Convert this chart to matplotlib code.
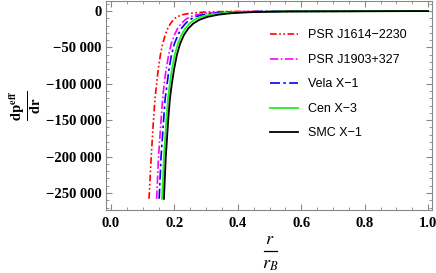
import numpy as np
import matplotlib.pyplot as plt
from matplotlib.lines import Line2D
from matplotlib.ticker import FuncFormatter, MultipleLocator

# valeurs : niveaux de dp/dr et rayon correspondant pour chaque etoile
niveaux = [-258000, -200000, -150000, -120000, -100000, -80000, -60000, -45000,
           -33000, -24000, -17000, -12000, -8000, -5000, -3000, -1500, -500, 0]

r_psr1614 = [0.120, 0.127, 0.134, 0.139, 0.144, 0.149, 0.156, 0.163, 0.171,
             0.179, 0.188, 0.197, 0.207, 0.226, 0.250, 0.290, 0.370, 1.0]
r_psr1903 = [0.144, 0.150, 0.158, 0.163, 0.168, 0.174, 0.182, 0.190, 0.200,
             0.210, 0.222, 0.234, 0.248, 0.272, 0.302, 0.350, 0.446, 1.0]
r_vela = [0.152, 0.158, 0.166, 0.171, 0.177, 0.183, 0.191, 0.200, 0.211,
          0.222, 0.235, 0.248, 0.265, 0.290, 0.322, 0.375, 0.478, 1.0]
r_cen = [0.161, 0.167, 0.1745, 0.180, 0.1855, 0.192, 0.201, 0.211, 0.222,
         0.234, 0.248, 0.263, 0.283, 0.312, 0.347, 0.404, 0.515, 1.0]
r_smc = [0.167, 0.173, 0.1805, 0.186, 0.192, 0.199, 0.208, 0.218, 0.230,
         0.2436, 0.260, 0.279, 0.304, 0.338, 0.378, 0.441, 0.563, 1.0]

noms = ["PSR J1614\u22122230", "PSR J1903+327", "Vela X\u22121", "Cen X\u22123", "SMC X\u22121"]

plt.rcParams['mathtext.fontset'] = 'stix'

fig = plt.figure(figsize=(4.36, 2.73), dpi=100)
ax = fig.add_axes([0.243, 0.231, 0.748, 0.765])

ax.plot(r_psr1614, niveaux, color='red', lw=1.2, dashes=[4, 1.5, 1, 1.5, 1, 1.5], label=noms[0])
ax.plot(r_psr1903, niveaux, color='magenta', lw=1.2, dashes=[5, 1.5, 1, 1.5], label=noms[1])
ax.plot(r_vela, niveaux, color='blue', lw=1.2, dashes=[6, 2, 1.5, 2], label=noms[2])
ax.plot(r_cen, niveaux, color='#22ee22', lw=1.3, label=noms[3])
ax.plot(r_smc, niveaux, color='black', lw=1.3, label=noms[4])

ax.set_xlim(-0.0158, 1.0126)
ax.set_ylim(-273300, 13700)

ax.xaxis.set_major_locator(MultipleLocator(0.2))
ax.xaxis.set_minor_locator(MultipleLocator(0.05))
ax.yaxis.set_major_locator(MultipleLocator(50000))
ax.yaxis.set_minor_locator(MultipleLocator(10000))

def fmt_y(v, pos):
    v = int(round(v))
    if v == 0:
        return "0"
    s = f"{abs(v):,}".replace(",", " ")
    return ("\u2212" if v < 0 else "") + s

ax.yaxis.set_major_formatter(FuncFormatter(fmt_y))
ax.xaxis.set_major_formatter(FuncFormatter(lambda v, p: f"{v:.1f}"))

ax.tick_params(which='both', direction='in', top=True, right=True, color='#888888')
ax.tick_params(which='major', length=4, width=0.8)
ax.tick_params(which='minor', length=2, width=0.6)
ax.tick_params(axis='x', pad=5)
ax.tick_params(axis='y', pad=3)
for sp in ax.spines.values():
    sp.set_color('#888888')

for lab in ax.get_xticklabels() + ax.get_yticklabels():
    lab.set_family('Liberation Serif')
    lab.set_fontweight('bold')
    lab.set_fontsize(10.5)

ax.set_ylabel(r"$\mathbf{\frac{dp^{eff}}{dr}}$", fontsize=15, labelpad=2)

# r / r_B : numerateur, trait, denominateur
xc = 270 / 436
fig.text(xc, 1 - 239 / 273, "$r$", fontsize=13, ha='center', va='center')
fig.text(xc, 1 - 264 / 273, "$r_B$", fontsize=13, ha='center', va='center')
fig.add_artist(Line2D([264 / 436, 277 / 436], [1 - 251 / 273, 1 - 251 / 273],
                      transform=fig.transFigure, color='black', lw=0.9))

ax.legend(loc='upper left', bbox_to_anchor=(0.488, 0.888), frameon=False, borderaxespad=0,
          prop={'family': 'Liberation Sans', 'size': 9}, handlelength=2.2,
          labelspacing=1.0, handletextpad=0.8)

fig.savefig("out.png", dpi=100)
